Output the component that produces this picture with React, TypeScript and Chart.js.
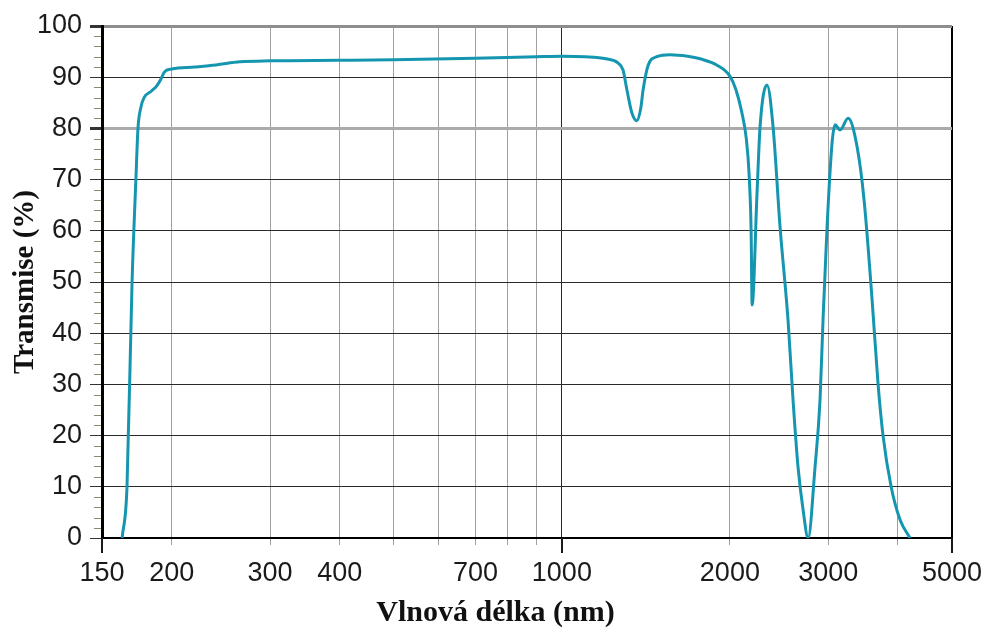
import React, { useEffect, useRef } from "react";
import { Chart, registerables } from "chart.js";

Chart.register(...registerables);

// Transmission spectrum of fused silica: wavelength (nm) vs. transmission (%)
const wavelengthNm = [
  163, 166.3, 169.8, 172.5, 174, 176, 178.4, 184, 188, 191, 194, 200, 220, 240,
  265, 300, 400, 500, 700, 900, 1000, 1100, 1200, 1260, 1287, 1308, 1335, 1362,
  1385, 1398, 1427, 1480, 1563, 1680, 1769, 1900, 2000, 2050, 2100, 2140, 2165,
  2183, 2192, 2237, 2265, 2331, 2390, 2460, 2542, 2595, 2649, 2705, 2762, 2842,
  2901, 2937, 2986, 3048, 3087, 3151, 3257, 3380, 3479, 3596, 3686, 3762, 3890,
  4037, 4206,
];
const transmissionPct = [
  0, 10, 50, 70, 80, 84, 86, 87.3, 88.3, 89.5, 91, 91.6, 92, 92.4,
  93, 93.2, 93.3, 93.4, 93.7, 94, 94.1, 94, 93.6, 92.8, 91.4, 87.5, 83, 81.5,
  84, 87.5, 92.3, 94, 94.4, 94.1, 93.6, 92.3, 90.2, 87.6, 83.2, 78, 71,
  60, 45.5, 67.4, 80.3, 88.5, 80.3, 60.7, 42.6, 27, 13.9, 5.5, 0, 13.9,
  27, 42.6, 60.7, 77.1, 80.7, 79.7, 82, 76.4, 66, 46.5, 30, 20, 10,
  3.5, 0,
];

const xGridValues = [150, 200, 300, 400, 500, 600, 700, 800, 900, 1000, 2000, 3000, 4000, 5000];
const xTickLabels = [150, 200, 300, 400, 700, 1000, 2000, 3000, 5000];
const xLongTicks = [150, 1000, 5000];
const yMajorStep = 10;
const yMinorStep = 2;

const xTitle = "Vlnová délka (nm)";
const yTitle = "Transmise (%)";

const W = 987;
const H = 633;

const tickFont = { family: "'Liberation Sans', Arial, sans-serif", size: 27 };
const titleFontFamily = "'Liberation Serif', 'Times New Roman', serif";

// Minor y ticks, longer marks at 150 / 1000 / 5000 and the x-axis caption
const axisExtras = {
  id: "axisExtras",
  afterDraw(chart: any) {
    const { ctx } = chart;
    const x = chart.scales.x;
    const y = chart.scales.y;
    ctx.save();
    ctx.strokeStyle = "#8c8a72";
    ctx.lineWidth = 1;
    for (let v = y.min; v <= y.max; v += yMinorStep) {
      if (v % yMajorStep === 0) continue;
      const py = Math.round(y.getPixelForValue(v)) + 0.5;
      ctx.beginPath();
      ctx.moveTo(x.left - 8, py);
      ctx.lineTo(x.left - 1, py);
      ctx.stroke();
    }
    ctx.strokeStyle = "#1a1a1a";
    ctx.lineWidth = 2;
    for (const v of xLongTicks) {
      const px = Math.round(x.getPixelForValue(v));
      ctx.beginPath();
      ctx.moveTo(px, y.bottom);
      ctx.lineTo(px, y.bottom + 15);
      ctx.stroke();
    }
    ctx.fillStyle = "#111";
    ctx.font = `bold 30px ${titleFontFamily}`;
    ctx.textAlign = "center";
    ctx.textBaseline = "middle";
    ctx.fillText(xTitle, chart.width / 2 + 2, y.bottom + 75);
    ctx.restore();
  },
};

export default function App() {
  const canvasRef = useRef<HTMLCanvasElement | null>(null);

  useEffect(() => {
    if (!canvasRef.current) return;
    const data = wavelengthNm.map((w, i) => ({ x: w, y: transmissionPct[i] }));
    const chart = new Chart(canvasRef.current, {
      type: "line",
      data: {
        datasets: [
          {
            data,
            borderColor: "#1596b0",
            borderWidth: 3,
            pointRadius: 0,
            cubicInterpolationMode: "monotone",
            fill: false,
          },
        ],
      },
      plugins: [axisExtras],
      options: {
        responsive: false,
        animation: false,
        events: [],
        layout: { padding: { left: 0, top: 26, right: 35, bottom: 0 } },
        plugins: {
          legend: { display: false },
          tooltip: { enabled: false },
        },
        scales: {
          x: {
            type: "logarithmic",
            min: 150,
            max: 5000,
            afterBuildTicks(scale: any) {
              scale.ticks = xGridValues.map((v) => ({ value: v }));
            },
            afterFit(scale: any) {
              scale.height = 95;
              scale.paddingLeft = 0;
              scale.paddingRight = 0;
            },
            ticks: {
              autoSkip: false,
              maxRotation: 0,
              minRotation: 0,
              padding: 12,
              color: "#1a1a1a",
              font: tickFont,
              callback: (v: any) => (xTickLabels.includes(Number(v)) ? String(v) : ""),
            },
            grid: {
              color: (c: any) => {
                const v = c.tick?.value;
                if (v === 5000) return "#000";
                if (v === 1000) return "#2a2a2a";
                return "#a0a0a0";
              },
              lineWidth: (c: any) => (c.tick?.value === 5000 ? 2 : 1),
              tickColor: (c: any) => {
                const v = c.tick?.value;
                return v === 5000 || v === 1000 || v === 150 ? "#1a1a1a" : "#a0a0a0";
              },
              tickLength: 7,
            },
            border: { display: true, color: "#000", width: 2 },
          },
          y: {
            min: 0,
            max: 100,
            afterFit(scale: any) {
              scale.width = 102;
              scale.paddingTop = 0;
              scale.paddingBottom = 0;
            },
            ticks: {
              stepSize: yMajorStep,
              padding: 8,
              color: "#1a1a1a",
              font: tickFont,
            },
            grid: {
              color: (c: any) => {
                const v = c.tick?.value;
                if (v === 80) return "#aaaaaa";
                if (v === 100) return "#8e8e8e";
                return "#2a2a2a";
              },
              lineWidth: (c: any) => {
                const v = c.tick?.value;
                return v === 80 || v === 100 ? 3 : 1;
              },
              tickColor: "#333",
              tickLength: 12,
            },
            border: { display: true, color: "#000", width: 3 },
            title: {
              display: true,
              text: yTitle,
              color: "#111",
              font: { family: titleFontFamily, size: 29, weight: "bold", lineHeight: 1.2 },
              padding: { top: 8, bottom: 0 },
            },
          },
        },
      } as any,
    });
    return () => chart.destroy();
  }, []);

  return (
    <div style={{ position: "fixed", left: 0, top: 0, width: W, height: H, background: "#fff" }}>
      <canvas ref={canvasRef} width={W} height={H} style={{ display: "block", width: W, height: H }} />
    </div>
  );
}
